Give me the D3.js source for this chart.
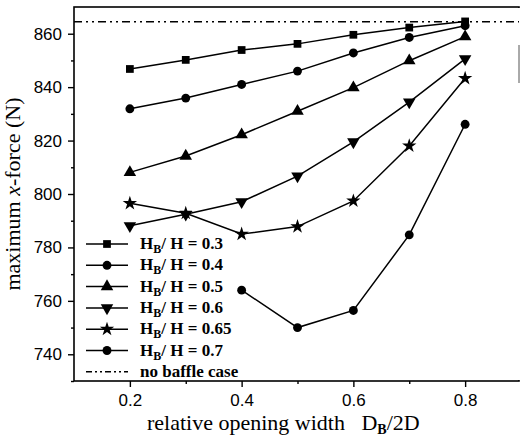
<!DOCTYPE html>
<html>
<head>
<meta charset="utf-8">
<script src="https://cdn.jsdelivr.net/npm/d3@7"></script>
<style>
  body { margin: 0; background: #fff; }
  svg { display: block; }
</style>
</head>
<body>
<div id="chart"></div>
<script>
// values
const openWidth = [0.2, 0.3, 0.4, 0.5, 0.6, 0.7, 0.8];
const ratioLabels = ["0.3", "0.4", "0.5", "0.6", "0.65", "0.7"];
const hb030 = [846.8, 850.2, 853.9, 856.2, 859.6, 862.3, 864.6];
const hb040 = [831.9, 835.9, 841.0, 846.0, 852.8, 858.6, 863.0];
const hb050 = [808.1, 814.2, 822.2, 831.0, 839.8, 849.9, 858.9];
const hb060 = [788.1, 792.4, 797.1, 806.7, 819.5, 834.4, 850.6];
const hb065 = [796.5, 792.8, 785.0, 787.8, 797.4, 818.0, 843.3];
const hb070 = [null, null, 764.0, 750.0, 756.4, 784.7, 826.1];
const noBaffle = 864.5;
const xTicks = [0.2, 0.4, 0.6, 0.8];
const xMinor = [0.3, 0.5, 0.7];
const yTicks = [740, 760, 780, 800, 820, 840, 860];
const yMinor = [730, 750, 770, 790, 810, 830, 850];

const width = 520, height = 441;
const plotL = 74, plotR = 519, plotT = 7, plotB = 381;

const svg = d3.select("#chart").append("svg")
    .attr("width", width)
    .attr("height", height);

const x = d3.scaleLinear().domain([0.1, 0.9]).range([plotL, 521]);
const y = d3.scaleLinear().domain([730, 870]).range([plotB, plotT]);

// frame (right side is mostly lost in the scan)
svg.append("rect")
    .attr("x", plotL).attr("y", plotT)
    .attr("width", plotR - plotL).attr("height", plotB - plotT)
    .attr("fill", "none").attr("stroke", "#000").attr("stroke-width", 1.6);
svg.append("line")
    .attr("x1", plotR).attr("x2", plotR).attr("y1", plotT + 1).attr("y2", plotB - 1)
    .attr("stroke", "#fff").attr("stroke-width", 2);
svg.append("line")
    .attr("x1", plotR).attr("x2", plotR).attr("y1", 45).attr("y2", 83)
    .attr("stroke", "#555").attr("stroke-width", 1);

// axes
const tickFont = "17px 'Liberation Sans', Arial, sans-serif";
svg.append("g").attr("transform", `translate(0,${plotB})`)
    .call(d3.axisBottom(x).tickValues(xTicks).tickSize(6).tickPadding(7).tickFormat(d3.format(".1f")));
svg.append("g").attr("transform", `translate(0,${plotB})`)
    .call(d3.axisBottom(x).tickValues(xMinor).tickSize(3).tickFormat(""));
svg.append("g").attr("transform", `translate(${plotL},0)`)
    .call(d3.axisLeft(y).tickValues(yTicks).tickSize(6).tickPadding(6));
svg.append("g").attr("transform", `translate(${plotL},0)`)
    .call(d3.axisLeft(y).tickValues(yMinor).tickSize(3).tickFormat(""));
svg.selectAll(".domain").remove();
svg.selectAll(".tick line").attr("stroke", "#000").attr("stroke-width", 1.4);
svg.selectAll(".tick text").style("font", tickFont).attr("fill", "#000");

// axis titles
const serif = "'Liberation Serif', 'Times New Roman', serif";
const xt = svg.append("text")
    .attr("x", 147).attr("y", 430)
    .style("font-family", serif).style("font-size", "22px")
    .style("white-space", "pre");
xt.append("tspan").text("relative opening width   D");
xt.append("tspan").attr("dy", 4).style("font-size", "14px").style("font-weight", "bold").text("B");
xt.append("tspan").attr("dy", -4).text("/2D");

const yt = svg.append("text")
    .attr("transform", "translate(20,194) rotate(-90)")
    .attr("text-anchor", "middle")
    .style("font-family", serif).style("font-size", "22px");
yt.append("tspan").text("maximum ");
yt.append("tspan").style("font-style", "italic").text("x");
yt.append("tspan").text("-force (N)");

// series
const series = [hb030, hb040, hb050, hb060, hb065, hb070];
const shapes = [
  {type: d3.symbolSquare, size: 60, rot: 0},
  {type: d3.symbolCircle, size: 62, rot: 0},
  {type: d3.symbolTriangle, size: 68, rot: 0},
  {type: d3.symbolTriangle, size: 68, rot: 180},
  {type: d3.symbolStar, size: 64, rot: 0},
  {type: d3.symbolCircle, size: 62, rot: 0}
];

const line = d3.line()
    .defined(d => d.v != null)
    .x(d => x(d.x)).y(d => y(d.v));

series.forEach((vals, i) => {
  const pts = openWidth.map((xv, j) => ({x: xv, v: vals[j]}));
  svg.append("path")
      .attr("d", line(pts))
      .attr("fill", "none").attr("stroke", "#000").attr("stroke-width", 1.5);
  svg.append("g").selectAll("path")
    .data(pts.filter(d => d.v != null))
    .join("path")
      .attr("transform", d => `translate(${x(d.x)},${y(d.v)}) rotate(${shapes[i].rot})`)
      .attr("d", d3.symbol(shapes[i].type, shapes[i].size))
      .attr("fill", "#000");
});

// no baffle reference line
svg.append("line")
    .attr("x1", plotL).attr("x2", plotR)
    .attr("y1", y(noBaffle)).attr("y2", y(noBaffle))
    .attr("stroke", "#000").attr("stroke-width", 1.4)
    .attr("stroke-dasharray", "8,4,2,4,2,4");

// legend
const lg = svg.append("g");
const rowY = i => 244 + i * 21.3;
ratioLabels.forEach((lab, i) => {
  lg.append("line")
      .attr("x1", 86).attr("x2", 128).attr("y1", rowY(i)).attr("y2", rowY(i))
      .attr("stroke", "#000").attr("stroke-width", 1.5);
  lg.append("path")
      .attr("transform", `translate(107,${rowY(i)}) rotate(${shapes[i].rot})`)
      .attr("d", d3.symbol(shapes[i].type, shapes[i].size))
      .attr("fill", "#000");
  const t = lg.append("text")
      .attr("x", 140).attr("y", rowY(i) + 5)
      .style("font-family", serif).style("font-size", "17px").style("font-weight", "bold");
  t.append("tspan").text("H");
  t.append("tspan").attr("dy", 4).style("font-size", "12px").text("B");
  t.append("tspan").attr("dy", -4).text("/ H = " + lab);
});
lg.append("line")
    .attr("x1", 86).attr("x2", 128).attr("y1", rowY(6)).attr("y2", rowY(6))
    .attr("stroke", "#000").attr("stroke-width", 1.4)
    .attr("stroke-dasharray", "6,3,2,3,2,3");
lg.append("text")
    .attr("x", 140).attr("y", rowY(6) + 5)
    .style("font-family", serif).style("font-size", "17px").style("font-weight", "bold")
    .text("no baffle case");
</script>
</body>
</html>
